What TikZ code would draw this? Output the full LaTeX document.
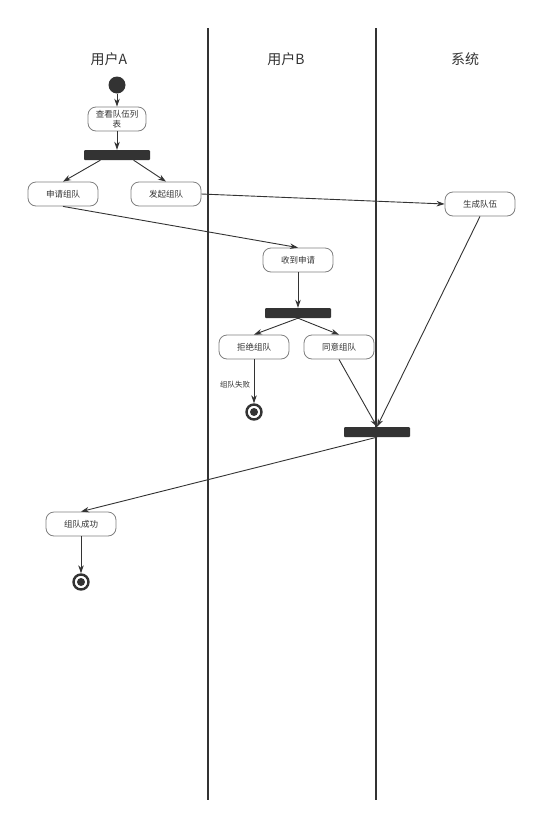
\documentclass[tikz,border=0pt]{standalone}
\usepackage{fontspec}
\setmainfont{Noto Sans CJK SC}
\usetikzlibrary{arrows.meta, calc}
\definecolor{lnclr}{HTML}{333333}
\definecolor{bdclr}{HTML}{808080}

\begin{document}
\begin{tikzpicture}[
  x=1pt, y=-1pt,
  >={Stealth[length=8pt, width=5.5pt]},
  actbox/.style={draw=bdclr, line width=0.8pt, fill=white, rounded corners=8pt,
    minimum width=70pt, minimum height=24pt, align=center, inner sep=2pt,
    font=\fontsize{8.5}{10}\selectfont, text=lnclr},
  forkbar/.style={fill=lnclr, rounded corners=1pt, minimum width=66pt,
    minimum height=10pt, inner sep=0pt},
  lane/.style={font=\fontsize{14}{16}\selectfont, text=lnclr},
  arr/.style={->, line width=0.9pt, lnclr},
]

% Canvas
\useasboundingbox (0,0) rectangle (554,836);
\fill[white] (0,0) rectangle (554,836);

% === Swimlanes ===
\coordinate (laneAB top) at (208,28);
\coordinate (laneAB bot) at (208,800);
\coordinate (laneBS top) at (376,28);
\coordinate (laneBS bot) at (376,800);
\draw[line width=1.3pt, lnclr] (laneAB top) -- (laneAB bot);
\draw[line width=1.3pt, lnclr] (laneBS top) -- (laneBS bot);

\node[lane] (userA) at (109,59) {用户A};
\node[lane] (userB) at (286,59) {用户B};
\node[lane] (sys) at (465,59) {系统};

% === User A ===
\node[circle, fill=lnclr, minimum size=17pt, inner sep=0pt] (start) at (117,85) {};
\node[actbox, minimum width=58pt, text width=50pt] (view) at (117,119)
  {查看队伍列\\表};
\node[forkbar] (fork1) at (117,155) {};
\node[actbox] (apply) at (63,194) {申请组队};
\node[actbox] (launch) at (166,194) {发起组队};

% === User B ===
\node[actbox] (recv) at (298,260) {收到申请};
\node[forkbar] (fork2) at (298,313) {};
\node[actbox] (reject) at (254,347) {拒绝组队};
\node[actbox] (agree) at (339,347) {同意组队};
\node[circle, draw=lnclr, line width=2.4pt, minimum size=15pt, inner sep=0pt] (end1) at (254,412) {};
\fill[lnclr] (end1.center) circle (4pt);

% === System ===
\node[actbox] (create) at (480,204) {生成队伍};
\node[forkbar] (join) at (377,432) {};

% === Result ===
\node[actbox] (ok) at (81,524) {组队成功};
\node[circle, draw=lnclr, line width=2.4pt, minimum size=15pt, inner sep=0pt] (end2) at (81,582) {};
\fill[lnclr] (end2.center) circle (4pt);

% === Arrows ===
\draw[arr] (start) -- (view);
\draw[arr] (view) -- (fork1);
\draw[arr] ($(fork1.south)!0.5!(fork1.south west)$) -- (apply.north);
\draw[arr] ($(fork1.south)!0.5!(fork1.south east)$) -- (launch.north);
\draw[arr] (apply.south) -- (recv.north);
\draw[arr] (launch.east) -- (create.west);
\draw[arr] (recv) -- (fork2);
\draw[arr] (fork2.south) -- (reject.north);
\draw[arr] (fork2.south) -- (agree.north);
\draw[arr] (reject) --
  node[pos=0.58, left=0pt, font=\fontsize{7.5}{9}\selectfont, text=lnclr] {组队失败}
  (end1);
\draw[arr] (agree.south) -- (join.north);
\draw[arr] (create.south) -- (join.north);
\draw[arr] (join.south) -- (ok.north);
\draw[arr] (ok) -- (end2);

\end{tikzpicture}
\end{document}
